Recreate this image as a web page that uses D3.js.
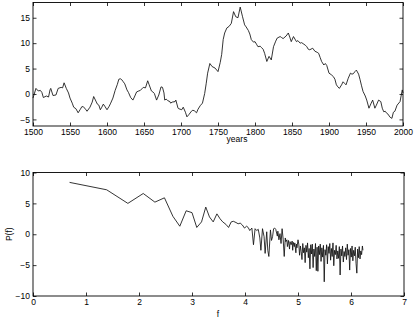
<!DOCTYPE html>
<html>
<head>
<meta charset="utf-8">
<script src="https://cdn.jsdelivr.net/npm/d3@7"></script>
<style>
body { margin: 0; background: #fff; }
svg text { font-family: "Liberation Sans", Arial, sans-serif; font-size: 8.5px; fill: #000; }
.domain { display: none; }
.tick line { stroke: #000; stroke-width: 0.8; }
</style>
</head>
<body>
<div id="chart"></div>
<script>
const w = 415;
const h = 320;

// top panel: record vs year
const years = [1500,1504,1507,1510,1512,1514,1518,1521,1523,1524,1527,1531,1534,1538,1540,1542,1545,1548,1550,1553,
  1555,1558,1561,1564,1566,1568,1571,1573,1577,1580,1582,1585,1587,1589,1591,1593,1595,1597,1600,1603,
  1605,1608,1611,1614,1616,1618,1620,1622,1624,1627,1629,1632,1635,1637,1640,1643,1645,1647,1649,1652,
  1655,1657,1660,1662,1664,1667,1670,1673,1675,1677,1678,1680,1682,1685,1686,1688,1692,1693,1696,1697,
  1701,1703,1706,1708,1711,1714,1716,1718,1721,1723,1726,1729,1732,1734,1736,1739,1742,1746,1750,1753,
  1755,1757,1759,1762,1765,1768,1771,1774,1777,1780,1783,1786,1788,1791,1793,1795,1798,1800,1802,1804,
  1807,1809,1811,1813,1816,1819,1822,1825,1828,1830,1834,1836,1838,1842,1845,1847,1849,1852,1854,1856,
  1858,1861,1863,1865,1868,1870,1872,1874,1878,1881,1884,1886,1888,1890,1893,1895,1897,1900,1903,1906,
  1908,1910,1912,1914,1917,1919,1921,1923,1926,1929,1931,1933,1935,1937,1940,1942,1944,1946,1949,1951,
  1954,1957,1959,1962,1964,1967,1970,1972,1974,1976,1978,1980,1982,1985,1987,1989,1992,1996,1999,2000];
const anomaly = [-0.8,1.1,0.6,0.7,0.3,-0.7,-0.4,-0.6,0.8,1.1,-0.3,-0.2,1.1,1.3,1.2,2.2,1.1,0.2,-0.8,-1.8,
  -2.6,-2.9,-3.7,-3.0,-2.5,-2.5,-3.0,-3.4,-2.6,-1.6,-0.5,-1.4,-2.0,-2.2,-3.1,-2.6,-2.0,-2.4,-3.1,-2.4,
  -1.8,-0.8,0.7,1.9,2.9,3.0,2.8,2.4,2.0,0.8,0.3,-0.7,-1.2,-0.6,0.4,0.6,0.7,1.0,1.3,1.2,
  2.6,1.8,0.6,0.4,0.1,-1.2,-0.2,1.4,1.3,0.2,-1.2,-1.0,-1.3,-1.5,-1.8,-1.6,-1.5,-1.2,-2.8,-2.9,
  -3.1,-2.6,-3.6,-4.5,-4.0,-3.4,-3.2,-3.3,-3.7,-3.0,-2.3,-1.8,0.1,2.0,4.1,6.0,5.4,5.1,4.4,6.2,
  7.8,10.7,12.0,13.0,13.3,13.9,16.2,15.2,15.0,17.1,15.3,13.6,13.2,12.5,11.8,10.7,10.2,10.3,9.8,9.3,
  9.4,9.1,8.8,8.0,6.4,7.4,6.7,9.3,10.4,11.0,11.3,11.1,10.9,11.4,12.0,11.2,10.3,11.3,10.8,10.3,
  10.5,10.0,10.1,9.9,9.6,9.3,8.8,8.7,9.0,8.4,8.2,8.0,7.2,6.4,5.7,6.0,5.6,4.1,3.8,3.4,
  2.9,1.8,1.4,1.1,1.8,2.4,2.1,1.8,3.1,4.1,3.9,4.0,4.4,4.7,3.9,2.8,1.6,0.5,-0.4,-1.2,
  -2.8,-1.8,-1.2,-2.8,-2.2,-1.2,-1.5,-2.8,-3.5,-3.4,-3.8,-4.0,-4.5,-4.8,-3.6,-3.4,-2.2,-1.5,0.8,0.2];
const yearTicks = [1500,1550,1600,1650,1700,1750,1800,1850,1900,1950,2000];
const anomalyTicks = [-5,0,5,10,15];

// bottom panel: spectrum P(f)
const freqs = [0.69,1.39,1.79,2.08,2.30,2.48,2.64,2.77,2.89,3.00,3.09,3.18,3.26,3.33,3.40,3.47,3.53,3.58,3.64,3.69,
  3.74,3.78,3.83,3.87,3.91,3.95,3.99,4.03,4.06,4.09,4.13,4.16,4.19,4.22,4.25,4.28,4.30,4.33,4.36,4.38,
  4.41,4.43,4.45,4.48,4.50,4.52,4.54,4.56,4.58,4.61,4.62,4.64,4.66,4.68,4.70,4.72,4.74,4.76,4.77,4.79,
  4.80,4.82,4.84,4.85,4.87,4.89,4.90,4.91,4.93,4.94,4.96,4.97,4.98,5.00,
  5.015,5.03,5.045,5.06,5.075,5.09,5.105,5.12,5.135,5.15,5.165,5.18,5.195,5.21,5.225,5.24,5.255,5.27,5.285,5.30,
  5.315,5.33,5.345,5.36,5.375,5.39,5.405,5.42,5.435,5.45,5.465,5.48,5.495,5.51,5.525,5.54,5.555,5.57,5.585,5.60,
  5.615,5.63,5.645,5.66,5.675,5.69,5.705,5.72,5.735,5.75,5.765,5.78,5.795,5.81,5.825,5.84,5.855,5.87,5.885,5.90,
  5.915,5.93,5.945,5.96,5.975,5.99,6.005,6.02,6.035,6.05,6.065,6.08,6.095,6.11,6.125,6.14,6.155,6.17,6.185,6.20,
  6.215,6.225];
const power = [8.4,7.2,5.0,6.6,5.2,5.9,2.9,1.3,3.8,3.5,1.1,2.0,4.4,2.8,2.0,3.3,2.5,2.0,1.6,1.1,
  2.0,2.1,1.9,1.7,1.8,1.5,1.0,1.3,1.1,0.6,1.0,-1.7,0.9,0.6,0.8,-0.6,-2.6,0.9,-0.4,-3.1,
  0.4,-2.6,-3.6,0.7,-1.0,-0.4,0.9,1.0,0.8,-0.3,0.5,-0.9,0.1,-1.5,0.9,-0.8,-3.6,-0.6,-1.2,-0.9,
  -2.0,-1.0,-2.4,-1.2,-1.7,-1.1,-2.6,-1.3,-2.0,-1.4,-3.0,-1.6,-2.2,-0.9,
  -1.6,-3.4,-1.9,-2.8,-4.1,-1.5,-3.0,-2.2,-4.6,-1.8,-2.9,-1.4,-3.8,-2.3,-5.6,-1.7,-3.2,-1.6,-5.4,-2.4,
  -3.6,-1.5,-5.9,-2.1,-6.0,-1.9,-3.3,-1.6,-4.4,-2.2,-3.7,-1.8,-7.7,-2.5,-3.4,-1.7,-4.8,-2.0,-3.1,-1.5,
  -4.2,-2.3,-3.6,-1.4,-5.1,-2.6,-3.3,-1.8,-4.0,-2.7,-3.9,-2.0,-6.6,-2.4,-3.5,-1.9,-4.5,-2.8,-3.6,-2.2,
  -4.1,-1.6,-3.4,-2.5,-5.8,-2.3,-3.7,-1.9,-4.3,-2.6,-3.5,-2.1,-4.7,-6.3,-2.4,-3.8,-2.0,-4.0,-2.7,-3.3,
  -1.9,-2.6];
const freqTicks = [0,1,2,3,4,5,6,7];
const powerTicks = [-10,-5,0,5,10];

const svg = d3.select("#chart")
  .append('svg')
  .attr('width', w)
  .attr('height', h);

// draws a boxed MATLAB-style panel with inward ticks on all four sides
function panel(box, xDom, yDom, xTicks, yTicks, xs, ys, xLabel, xLabelPos, yLabel) {
  const xScale = d3.scaleLinear().domain(xDom).range([box.l, box.r]);
  const yScale = d3.scaleLinear().domain(yDom).range([box.b, box.t]);

  svg.append('g')
    .attr('transform', `translate(0,${box.b})`)
    .call(d3.axisBottom(xScale).tickValues(xTicks).tickSizeInner(-3.5).tickSizeOuter(0).tickPadding(3).tickFormat(d3.format('d')));
  svg.append('g')
    .attr('transform', `translate(0,${box.t})`)
    .call(d3.axisTop(xScale).tickValues(xTicks).tickSizeInner(-3.5).tickSizeOuter(0).tickFormat(''));
  svg.append('g')
    .attr('transform', `translate(${box.l},0)`)
    .call(d3.axisLeft(yScale).tickValues(yTicks).tickSizeInner(-3.5).tickSizeOuter(0).tickPadding(3));
  svg.append('g')
    .attr('transform', `translate(${box.r},0)`)
    .call(d3.axisRight(yScale).tickValues(yTicks).tickSizeInner(-3.5).tickSizeOuter(0).tickFormat(''));

  svg.append('rect')
    .attr('x', box.l).attr('y', box.t)
    .attr('width', box.r - box.l).attr('height', box.b - box.t)
    .attr('fill', 'none').attr('stroke', '#000').attr('stroke-width', 0.9);

  const line = d3.line()
    .x((d, i) => xScale(xs[i]))
    .y(d => yScale(d));
  svg.append('path')
    .datum(ys)
    .attr('d', line)
    .attr('fill', 'none')
    .attr('stroke', '#111')
    .attr('stroke-width', 0.85)
    .attr('stroke-linejoin', 'round');

  svg.append('text')
    .attr('x', xLabelPos[0])
    .attr('y', box.b + xLabelPos[1])
    .attr('text-anchor', 'middle')
    .text(xLabel);

  if (yLabel) {
    svg.append('text')
      .attr('transform', `translate(12,${(box.t + box.b) / 2}) rotate(-90)`)
      .attr('text-anchor', 'middle')
      .text(yLabel);
  }
}

panel({l: 33, r: 403, t: 2.5, b: 126}, [1500, 2000], [-6.3, 18], yearTicks, anomalyTicks,
  years, anomaly, 'years', [237, 16], null);
panel({l: 33, r: 404, t: 172.5, b: 296}, [0, 7], [-10, 10], freqTicks, powerTicks,
  freqs, power, 'f', [218, 20.5], 'P(f)');
</script>
</body>
</html>
